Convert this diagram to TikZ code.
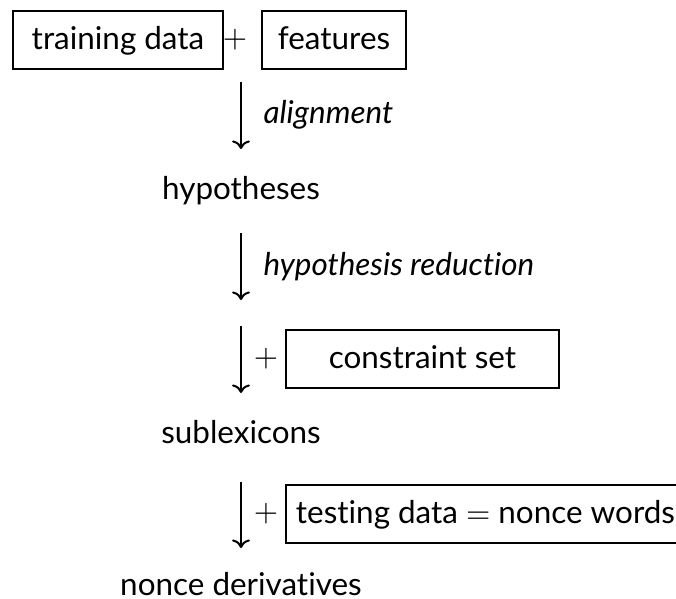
\documentclass[tikz,border=0pt]{standalone}
\usepackage{fontspec}
\setmainfont{Lato}[Ligatures=NoCommon]
\usepackage{tikz}
\usetikzlibrary{arrows.meta}

\begin{document}
\begin{tikzpicture}[x=0.35pt, y=-0.35pt,
    every node/.style={font=\fontsize{11}{13}\selectfont},
    stagebox/.style={draw, line width=0.6pt, minimum height=20.3pt, inner sep=0pt,
                     text height=8.5pt, text depth=2pt},
    stagetext/.style={anchor=base, inner sep=0pt},
    steplabel/.style={anchor=base west, inner sep=0pt, font=\fontsize{11}{13}\selectfont\itshape},
    plusnode/.style={inner sep=0pt},
    flow/.style={-{To[length=3pt]}, line width=0.7pt}]
  \useasboundingbox (0,0) rectangle (676,599);

  % first row: what goes in
  \node[stagebox, minimum width=73.5pt] (train) at (118,40) {training data};
  \node[plusnode] (plusA) at (235,40) {$+$};
  \node[stagebox, minimum width=50.4pt] (feat) at (334,40) {features};

  \node[stagetext] (hyp) at (241,199) {hypotheses};
  \node[stagebox, minimum width=95.55pt] (cons) at (422.5,359) {constraint set};
  \node[plusnode] (plusB) at (266,359) {$+$};
  \node[stagetext] (sub) at (241,443) {sublexicons};
  \node[stagebox, minimum width=139.65pt] (test) at (485.5,514) {testing data $=$ nonce words};
  \node[plusnode] (plusC) at (266,514) {$+$};
  \node[stagetext] (nonce) at (241,595) {nonce derivatives};

  \node[steplabel] (align) at (263,123) {alignment};
  \node[steplabel] (hred) at (263,275) {hypothesis reduction};

  % arrow ends
  \coordinate (a1) at (241,82);  \coordinate (b1) at (241,149);
  \coordinate (a2) at (241,233); \coordinate (b2) at (241,300);
  \coordinate (a3) at (241,326); \coordinate (b3) at (241,393);
  \coordinate (a4) at (241,482); \coordinate (b4) at (241,548);

  \draw[flow] (a1) -- (b1);
  \draw[flow] (a2) -- (b2);
  \draw[flow] (a3) -- (b3);
  \draw[flow] (a4) -- (b4);
\end{tikzpicture}
\end{document}
